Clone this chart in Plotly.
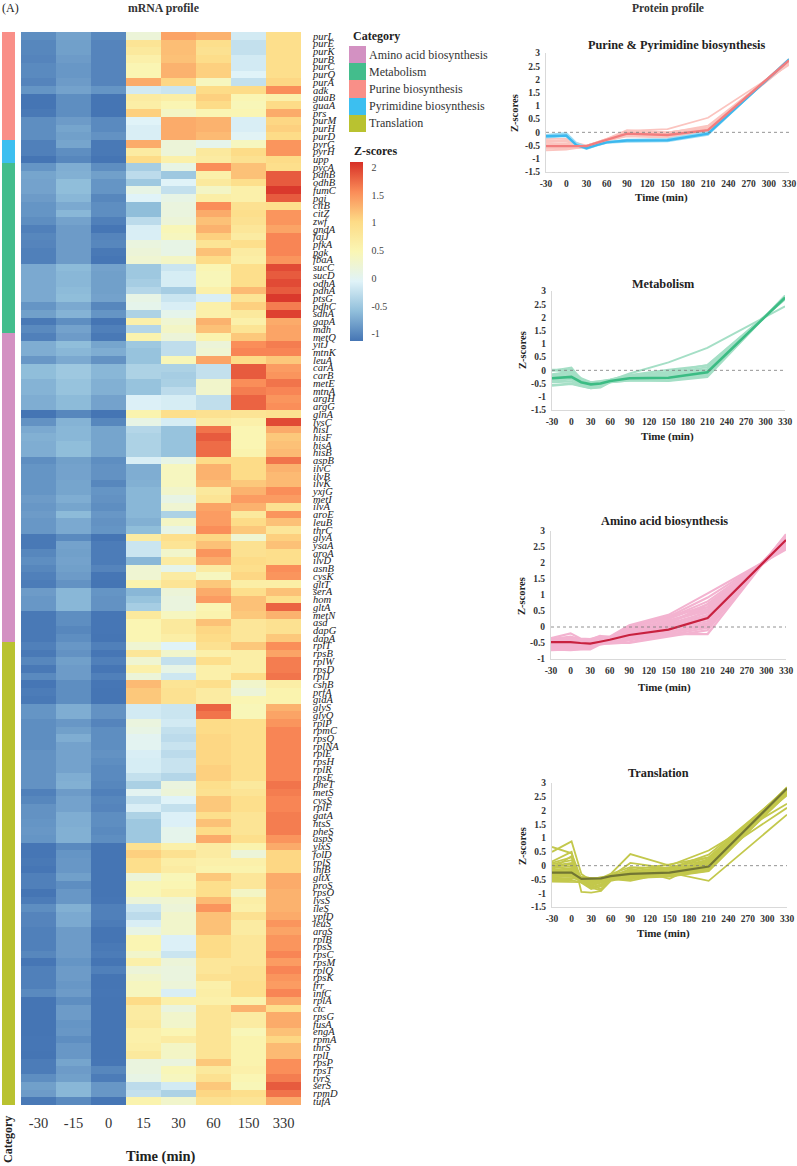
import plotly.graph_objects as go

W, H = 797, 1166
SERIF = "Liberation Serif"

time_cols = ["-30", "-15", "0", "15", "30", "60", "150", "330"]

genes_purine = ["purL","purE","purK","purB","purC","purQ","purA","adk","guaB","guaA","prs","purM","purH","purD"]
z_purine = [
[-0.95,-0.8,-0.98,0.2,1.4,1.3,-0.15,0.95],
[-1.0,-0.82,-1.02,0.85,1.22,0.95,-0.25,0.95],
[-1.0,-0.82,-1.02,0.75,1.22,0.9,-0.25,0.95],
[-1.02,-0.85,-1.02,0.6,1.2,0.98,-0.15,0.95],
[-0.98,-0.88,-1.02,0.5,1.3,1.1,-0.15,0.95],
[-0.98,-0.88,-1.02,0.5,1.3,1.1,-0.05,0.95],
[-1.02,-0.85,-1.02,1.35,1.05,0.4,-0.25,1.05],
[-0.9,-0.8,-0.9,-0.15,-0.2,1.0,1.0,1.55],
[-1.15,-0.95,-1.15,0.7,0.65,1.1,0.5,0.6],
[-1.15,-0.95,-1.15,0.65,0.5,1.0,0.45,1.0],
[-1.1,-0.95,-1.15,1.1,0.35,0.5,0.5,1.35],
[-0.95,-0.85,-0.98,-0.05,1.35,1.3,-0.1,1.05],
[-0.95,-0.78,-0.98,-0.1,1.35,1.3,-0.1,1.1],
[-0.95,-0.82,-0.92,-0.1,1.35,1.25,-0.03,1.0],
]
genes_pyrimidine = ["pyrG","pyrH","upp"]
z_pyrimidine = [
[-1.05,-0.78,-1.1,1.35,0.2,0.05,0.4,1.5],
[-1.05,-0.95,-1.1,0.7,0.2,0.75,1.0,1.5],
[-1.15,-1.0,-1.15,1.0,0.6,0.7,0.9,1.0],
]
genes_metabolism = ["pycA","pdhB","odhB","fumC","pgi","citB","citZ","zwf","gndA","faiJ","pfkA","pgk","fbaA","sucC","sucD","odhA","pdhA","ptsG","pdhC","sdhA","gapA","mdh"]
z_metabolism = [
[-0.9,-0.72,-0.95,-0.45,0.1,1.55,1.2,0.95],
[-0.78,-0.7,-0.82,-0.3,-0.5,0.6,1.2,1.85],
[-0.8,-0.6,-0.9,-0.5,-0.05,0.75,0.95,1.85],
[-0.8,-0.6,-0.9,0.1,-0.25,0.35,0.6,2.05],
[-0.85,-0.65,-1.0,-0.05,0.1,0.65,0.6,1.85],
[-0.9,-0.75,-0.95,-0.6,0.15,1.55,0.9,0.95],
[-0.9,-0.65,-0.95,-0.6,0.15,1.35,0.95,1.5],
[-0.95,-0.8,-1.05,-0.3,0.2,1.2,0.9,1.5],
[-1.05,-0.85,-1.12,-0.1,0.45,1.3,0.8,1.4],
[-1.0,-0.85,-1.02,-0.1,0.4,1.1,0.7,1.6],
[-1.02,-0.85,-1.0,0.15,0.1,0.85,0.95,1.6],
[-1.05,-0.85,-1.1,0.2,0.1,1.2,0.7,1.6],
[-1.05,-0.85,-1.12,0.25,0.35,1.0,0.65,1.5],
[-0.75,-0.62,-0.8,-0.5,-0.2,0.5,0.95,1.95],
[-0.75,-0.65,-0.82,-0.5,-0.12,0.45,0.95,1.85],
[-0.75,-0.65,-0.82,-0.45,-0.12,0.45,0.95,1.95],
[-0.75,-0.62,-0.82,-0.35,-0.45,0.6,1.25,1.85],
[-0.75,-0.6,-0.8,0.1,-0.2,-0.1,0.85,2.05],
[-0.9,-0.75,-1.0,0.05,-0.1,0.6,1.1,1.65],
[-0.82,-0.68,-0.9,-0.4,0.05,0.6,0.75,2.0],
[-1.1,-0.95,-1.15,0.6,0.25,1.3,0.6,1.35],
[-0.98,-0.8,-1.05,-0.35,0.35,1.2,0.85,1.4],
]
genes_amino = ["metQ","yitJ","mtnK","leuA","carA","carB","metE","mtnA","argH","argG","glnA","lysC","hisI","hisF","hisA","hisB","aspB","ilvC","ilvB","ilvK","yxjG","metI","ilvA","aroE","leuB","thrC","glyA","ysaA","aroA","ilvD","asnB","cysK","gltT","serA","hom","gltA","metN","asd","dapG","dapA"]
z_amino = [
[-1.05,-0.85,-1.1,0.55,0.2,0.55,1.15,1.4],
[-0.72,-0.6,-0.78,-0.5,-0.28,0.2,1.55,1.65],
[-0.72,-0.65,-0.72,-0.55,-0.28,0.25,1.6,1.6],
[-0.88,-0.75,-0.92,-0.55,0.45,1.4,1.0,1.15],
[-0.6,-0.5,-0.65,-0.4,-0.4,-0.25,1.85,1.45],
[-0.6,-0.5,-0.65,-0.4,-0.45,-0.25,1.85,1.5],
[-0.68,-0.55,-0.7,-0.55,-0.42,0.3,1.55,1.7],
[-0.68,-0.55,-0.7,-0.55,-0.3,0.3,1.65,1.6],
[-0.72,-0.62,-0.8,-0.08,-0.12,-0.27,1.8,1.5],
[-0.72,-0.62,-0.8,-0.08,-0.12,-0.27,1.8,1.55],
[-1.15,-1.0,-1.18,0.55,0.95,0.9,0.85,0.9],
[-0.92,-0.68,-1.0,0.1,-0.12,0.7,0.6,1.95],
[-0.75,-0.65,-0.78,-0.35,-0.55,1.7,0.5,1.35],
[-0.7,-0.65,-0.78,-0.4,-0.55,1.85,0.5,1.15],
[-0.72,-0.6,-0.78,-0.4,-0.55,1.75,0.5,1.2],
[-0.72,-0.6,-0.78,-0.4,-0.55,1.75,0.55,1.25],
[-0.95,-0.82,-0.95,-0.1,0.1,1.0,1.0,1.7],
[-0.9,-0.8,-0.92,-0.72,0.4,1.3,1.0,1.3],
[-0.9,-0.8,-0.92,-0.72,0.4,1.3,1.0,1.25],
[-0.9,-0.78,-1.0,-0.7,0.4,1.25,1.15,1.25],
[-0.9,-0.78,-0.9,-0.65,0.3,0.75,1.3,1.55],
[-0.85,-0.72,-0.92,-0.65,0.1,0.85,1.45,1.45],
[-0.88,-0.78,-0.95,-0.65,0.25,1.4,1.3,0.9],
[-0.85,-0.62,-0.88,-0.65,-0.4,1.45,0.75,1.5],
[-0.88,-0.75,-0.92,-0.7,0.35,1.45,1.0,1.2],
[-0.88,-0.75,-0.9,-0.6,0.1,1.55,1.15,0.8],
[-1.1,-0.98,-1.15,0.7,0.95,1.05,0.25,1.1],
[-1.1,-0.8,-1.08,-0.2,0.85,1.2,0.9,1.2],
[-1.0,-0.82,-1.08,-0.2,0.3,1.5,0.9,0.95],
[-0.95,-0.8,-1.08,-0.65,0.7,1.35,1.0,0.95],
[-1.0,-0.82,-1.02,0.25,0.05,0.7,0.95,1.55],
[-1.05,-0.85,-1.12,0.25,0.7,0.4,1.05,1.5],
[-1.08,-0.92,-1.15,0.55,0.85,1.15,0.65,0.65],
[-0.85,-0.65,-0.9,-0.65,0.2,1.35,0.95,1.2],
[-0.88,-0.65,-0.92,-0.55,0.15,1.45,1.2,0.95],
[-0.88,-0.65,-0.92,-0.45,0.15,0.5,1.2,1.8],
[-1.1,-0.95,-1.12,0.75,0.4,0.55,1.15,1.3],
[-1.1,-0.95,-1.12,0.5,0.75,1.2,0.8,0.9],
[-1.1,-1.0,-1.12,0.5,0.75,1.05,0.8,0.9],
[-1.1,-0.95,-1.15,0.5,0.65,1.0,0.8,1.15],
]
genes_translation = ["rplT","rpsB","rplW","rpsD","rplJ","cshB","prfA","gidA","glyS","glyQ","rplP","rpmC","rpsQ","rplNA","rplE","rpsH","rplR","rpsE","pheT","metS","cysS","rplF","gatA","htsS","pheS","aspS","ylxS","folD","rplS","infB","gltX","proS","rpsO","lysS","ileS","ypfD","leuS","argS","rplB","rpsS","rpsC","rpsM","rplQ","rpsK","frr","infC","rplA","ctc","rpsG","fusA","engA","rpmA","thrS","rplI","rpsP","rpsT","tyrS","serS","rpmD","tufA"]
z_translation = [
[-1.05,-0.88,-1.05,0.25,-0.05,0.9,1.15,1.55],
[-1.1,-0.92,-1.12,0.8,0.3,0.6,0.65,1.4],
[-1.0,-0.82,-1.05,0.25,-0.25,0.95,0.65,1.65],
[-1.1,-0.85,-1.12,0.6,0.1,0.6,0.65,1.65],
[-0.98,-0.85,-1.05,0.2,-0.18,0.6,1.0,1.7],
[-1.12,-0.95,-1.12,1.25,0.85,0.95,0.3,0.65],
[-1.08,-0.95,-1.15,1.15,0.9,0.7,0.2,0.55],
[-1.1,-0.95,-1.18,1.15,0.9,0.7,0.5,0.55],
[-0.9,-0.72,-0.92,-0.15,-0.2,1.8,0.45,1.3],
[-0.9,-0.72,-0.92,-0.15,-0.2,1.7,0.45,1.4],
[-0.95,-0.88,-1.02,0.15,-0.15,1.0,0.95,1.5],
[-0.95,-0.82,-0.95,0.1,-0.25,1.0,0.95,1.6],
[-0.95,-0.72,-0.95,0.0,-0.3,1.05,0.95,1.6],
[-0.95,-0.8,-0.95,0.0,-0.22,1.05,0.95,1.6],
[-0.92,-0.8,-0.92,-0.1,-0.3,1.05,0.95,1.6],
[-0.92,-0.8,-0.95,-0.12,-0.22,1.05,0.95,1.6],
[-0.92,-0.8,-0.98,-0.12,-0.22,1.1,0.95,1.6],
[-0.92,-0.72,-0.98,-0.25,-0.35,1.1,0.95,1.6],
[-0.92,-0.7,-1.0,-0.42,0.15,0.95,0.75,1.7],
[-1.05,-0.85,-1.05,0.0,0.2,0.9,0.85,1.65],
[-1.0,-0.8,-1.0,-0.25,-0.05,1.15,0.95,1.6],
[-0.92,-0.8,-1.02,-0.1,-0.25,1.15,0.95,1.6],
[-0.92,-0.72,-0.95,-0.4,-0.08,0.95,0.85,1.65],
[-0.9,-0.72,-0.95,-0.5,-0.08,1.2,0.85,1.65],
[-0.88,-0.7,-0.98,-0.5,0.05,1.0,0.85,1.65],
[-0.9,-0.7,-0.95,-0.5,0.05,1.35,0.95,1.5],
[-1.12,-0.98,-1.2,0.9,0.6,0.7,0.55,1.35],
[-1.12,-0.9,-1.2,1.1,0.9,0.7,0.2,1.05],
[-1.1,-0.88,-1.2,0.95,0.65,0.6,0.6,1.05],
[-1.12,-0.88,-1.2,0.95,0.7,0.55,0.55,1.05],
[-1.05,-0.82,-1.18,0.2,0.45,1.15,0.8,1.35],
[-1.05,-0.95,-1.18,0.45,0.5,0.95,0.8,1.35],
[-1.15,-0.88,-1.18,0.45,0.6,0.95,0.35,1.3],
[-1.08,-0.88,-1.12,0.2,0.25,1.25,0.65,1.3],
[-0.95,-0.7,-1.05,-0.2,0.2,1.5,0.6,1.3],
[-1.02,-0.75,-1.05,-0.3,0.3,1.2,0.9,1.35],
[-1.02,-0.75,-1.08,-0.1,0.3,1.2,0.7,1.5],
[-1.05,-0.85,-1.15,0.1,0.3,1.2,0.7,1.4],
[-1.05,-0.85,-1.15,0.5,-0.08,1.0,0.8,1.5],
[-1.05,-0.85,-1.1,0.5,-0.08,1.0,0.8,1.5],
[-1.0,-0.85,-1.08,0.3,-0.2,1.0,0.8,1.6],
[-1.12,-0.9,-1.15,0.6,0.2,0.8,0.8,1.45],
[-1.05,-0.85,-1.05,0.2,0.15,0.8,0.9,1.6],
[-1.05,-0.85,-1.15,0.3,0.15,0.9,0.9,1.5],
[-1.05,-0.88,-1.15,0.4,0.2,0.6,0.95,1.45],
[-0.98,-0.85,-1.12,0.4,-0.1,0.65,0.95,1.6],
[-1.15,-0.95,-1.18,1.0,0.6,0.6,0.55,1.35],
[-1.15,-0.85,-1.18,0.7,0.15,0.85,1.3,0.95],
[-1.15,-0.85,-1.18,0.7,0.3,0.85,0.7,1.35],
[-1.15,-0.9,-1.2,0.75,0.3,0.85,0.7,1.35],
[-1.15,-0.88,-1.2,0.6,0.5,0.85,0.45,1.2],
[-1.12,-0.95,-1.2,0.6,0.7,0.85,0.55,1.05],
[-1.12,-0.88,-1.2,0.65,0.35,0.85,0.55,1.25],
[-1.15,-0.88,-1.2,0.75,0.35,0.85,0.55,1.25],
[-1.08,-0.78,-1.12,0.15,0.15,1.15,0.55,1.55],
[-1.08,-0.85,-1.0,0.15,0.45,0.75,0.6,1.55],
[-0.95,-0.82,-1.08,0.1,0.4,0.9,0.5,1.65],
[-0.82,-0.65,-0.88,-0.3,-0.15,1.15,0.45,1.85],
[-0.85,-0.65,-0.88,-0.25,-0.4,1.05,0.95,1.7],
[-1.1,-0.98,-1.12,0.55,0.3,0.9,0.85,1.35],
]

legend_names = ["Amino acid biosynthesis", "Metabolism", "Purine biosynthesis", "Pyrimidine biosynthesis", "Translation"]
legend_colors = ["#d391c2", "#43bd8c", "#f98f88", "#3cbff0", "#b9c230"]
cbar_ticks = [-1, -0.5, 0, 0.5, 1, 1.5, 2]

# protein profile time points and per-protein z-scores
protein_times = [-30, 0, 15, 30, 45, 60, 90, 150, 210, 330]
axis_ticks = [-30, 0, 30, 60, 90, 120, 150, 180, 210, 240, 270, 300, 330]

purine_lines = [
[-0.25,-0.25,-0.4,-0.5,-0.38,-0.25,0.08,0.0,0.2,2.6],
[-0.35,-0.3,-0.45,-0.55,-0.4,-0.3,0.05,0.12,0.55,2.55],
[-0.45,-0.45,-0.5,-0.5,-0.4,-0.28,0.0,-0.02,0.25,2.65],
[-0.55,-0.55,-0.55,-0.55,-0.42,-0.3,-0.05,-0.05,0.15,2.7],
[-0.62,-0.6,-0.55,-0.5,-0.38,-0.25,-0.1,-0.12,0.05,2.75],
[-0.68,-0.65,-0.6,-0.58,-0.45,-0.32,-0.12,-0.15,-0.02,2.78],
[-0.6,-0.6,-0.58,-0.55,-0.42,-0.3,-0.15,-0.2,0.0,2.72],
[-0.5,-0.48,-0.5,-0.5,-0.4,-0.32,-0.02,-0.08,0.12,2.68],
[-0.4,-0.42,-0.48,-0.55,-0.43,-0.3,-0.08,-0.1,0.1,2.62],
[-0.3,-0.35,-0.45,-0.52,-0.4,-0.27,0.02,0.0,0.18,2.7],
]
purine_mean = [-0.52,-0.52,-0.52,-0.52,-0.4,-0.28,-0.05,-0.1,0.08,2.72]
pyrimidine_lines = [
[-0.1,-0.02,-0.4,-0.55,-0.45,-0.36,-0.28,-0.25,0.02,2.72],
[-0.2,-0.15,-0.5,-0.63,-0.5,-0.4,-0.36,-0.34,-0.1,2.78],
[-0.15,-0.1,-0.45,-0.6,-0.48,-0.38,-0.3,-0.3,-0.06,2.75],
]
pyrimidine_mean = [-0.15,-0.12,-0.48,-0.6,-0.48,-0.38,-0.31,-0.3,-0.05,2.75]

metabolism_lines = [
[0.02,0.02,-0.3,-0.45,-0.42,-0.35,-0.18,0.02,0.18,2.68],
[-0.02,0.1,-0.35,-0.45,-0.4,-0.36,-0.2,-0.05,0.2,2.7],
[0.0,-0.05,-0.35,-0.48,-0.45,-0.38,-0.12,0.3,0.85,2.42],
[-0.15,-0.05,-0.38,-0.5,-0.45,-0.38,-0.22,-0.1,0.12,2.72],
[-0.2,-0.1,-0.4,-0.5,-0.48,-0.38,-0.25,-0.15,0.05,2.74],
[-0.25,-0.15,-0.42,-0.55,-0.5,-0.4,-0.28,-0.2,0.0,2.75],
[-0.3,-0.2,-0.45,-0.58,-0.55,-0.42,-0.3,-0.25,-0.05,2.78],
[-0.35,-0.3,-0.5,-0.6,-0.55,-0.42,-0.32,-0.3,-0.1,2.78],
[-0.4,-0.35,-0.52,-0.62,-0.58,-0.44,-0.34,-0.33,-0.15,2.8],
[-0.45,-0.42,-0.55,-0.65,-0.6,-0.44,-0.36,-0.35,-0.18,2.8],
[-0.55,-0.5,-0.58,-0.68,-0.62,-0.45,-0.38,-0.38,-0.22,2.82],
[-0.58,-0.52,-0.6,-0.68,-0.65,-0.45,-0.38,-0.4,-0.25,2.82],
]
metabolism_mean = [-0.3,-0.25,-0.45,-0.53,-0.5,-0.4,-0.3,-0.28,-0.07,2.75]

amino_lines = [
[-0.35,-0.2,-0.36,-0.38,-0.3,-0.3,0.05,0.38,1.05,2.42],
[-0.38,-0.3,-0.38,-0.4,-0.28,-0.32,0.02,0.32,0.92,2.48],
[-0.42,-0.35,-0.4,-0.42,-0.35,-0.35,0.0,0.28,0.8,2.52],
[-0.45,-0.4,-0.42,-0.45,-0.38,-0.35,-0.05,0.35,0.62,2.55],
[-0.48,-0.42,-0.45,-0.5,-0.4,-0.38,-0.08,0.2,0.55,2.6],
[-0.5,-0.45,-0.48,-0.48,-0.42,-0.4,-0.1,0.15,0.62,2.62],
[-0.52,-0.5,-0.5,-0.55,-0.45,-0.42,-0.15,0.1,0.45,2.65],
[-0.55,-0.52,-0.52,-0.55,-0.45,-0.42,-0.2,0.05,0.38,2.7],
[-0.58,-0.55,-0.55,-0.58,-0.48,-0.45,-0.25,0.0,0.3,2.72],
[-0.6,-0.58,-0.58,-0.6,-0.5,-0.45,-0.3,-0.05,0.25,2.75],
[-0.62,-0.6,-0.6,-0.62,-0.5,-0.48,-0.35,-0.1,0.18,2.78],
[-0.65,-0.62,-0.62,-0.65,-0.52,-0.48,-0.38,-0.15,0.12,2.8],
[-0.68,-0.68,-0.65,-0.62,-0.5,-0.5,-0.42,-0.2,0.05,2.82],
[-0.72,-0.7,-0.68,-0.68,-0.52,-0.52,-0.48,-0.25,-0.02,2.85],
[-0.7,-0.72,-0.7,-0.7,-0.55,-0.5,-0.5,-0.3,-0.1,2.88],
[-0.45,-0.38,-0.4,-0.45,-0.38,-0.4,-0.28,-0.22,-0.22,2.9],
[-0.4,-0.42,-0.45,-0.5,-0.35,-0.38,-0.2,0.1,0.72,2.5],
[-0.55,-0.48,-0.55,-0.58,-0.42,-0.42,-0.12,-0.02,0.5,2.58],
[-0.46,-0.44,-0.46,-0.52,-0.42,-0.4,-0.02,0.25,0.7,2.56],
[-0.6,-0.55,-0.57,-0.6,-0.47,-0.44,-0.18,0.18,0.52,2.66],
[-0.66,-0.63,-0.64,-0.64,-0.5,-0.47,-0.28,-0.03,0.34,2.76],
[-0.5,-0.47,-0.5,-0.56,-0.43,-0.43,-0.33,-0.18,0.08,2.84],
]
amino_mean = [-0.47,-0.47,-0.5,-0.52,-0.46,-0.4,-0.25,-0.08,0.28,2.72]

translation_lines = [
[0.68,0.45,-0.5,-0.7,-0.85,-0.45,-0.2,-0.15,0.1,2.6],
[0.5,0.88,-0.3,-0.55,-0.6,-0.3,-0.05,-0.1,0.3,2.7],
[0.15,0.5,-0.95,-0.98,-0.92,-0.55,-0.4,-0.3,0.25,2.55],
[-0.12,0.35,-0.55,-0.8,-0.9,-0.45,-0.28,-0.2,0.15,2.65],
[-0.2,-0.2,-0.4,-0.45,-0.45,-0.3,0.42,0.0,0.55,2.25],
[-0.58,-0.58,-0.6,-0.8,-0.7,-0.48,-0.55,-0.25,-0.55,1.85],
[-0.35,-0.3,-0.5,-0.6,-0.55,-0.45,-0.1,-0.48,0.2,2.1],
[0.1,0.3,-0.6,-0.7,-0.6,-0.4,0.1,-0.1,0.4,2.75],
[0.05,0.2,-0.5,-0.55,-0.55,-0.35,-0.15,0.05,0.3,2.8],
[0.0,0.1,-0.45,-0.5,-0.5,-0.4,-0.2,-0.05,0.2,2.82],
[-0.05,0.05,-0.45,-0.48,-0.45,-0.38,-0.22,-0.12,0.15,2.78],
[-0.1,-0.02,-0.42,-0.45,-0.48,-0.36,-0.25,-0.15,0.08,2.75],
[-0.15,-0.08,-0.48,-0.5,-0.42,-0.4,-0.28,-0.2,0.05,2.85],
[-0.2,-0.12,-0.5,-0.52,-0.48,-0.42,-0.3,-0.22,0.0,2.8],
[-0.25,-0.18,-0.46,-0.55,-0.5,-0.38,-0.32,-0.25,-0.03,2.72],
[-0.28,-0.25,-0.52,-0.6,-0.52,-0.42,-0.35,-0.3,-0.06,2.68],
[-0.32,-0.3,-0.48,-0.62,-0.55,-0.44,-0.36,-0.32,-0.1,2.82],
[-0.38,-0.35,-0.55,-0.72,-0.62,-0.46,-0.38,-0.35,-0.14,2.78],
[-0.42,-0.4,-0.58,-0.78,-0.68,-0.42,-0.42,-0.38,-0.18,2.75],
[-0.48,-0.45,-0.5,-0.65,-0.58,-0.48,-0.45,-0.4,-0.2,2.62],
[-0.52,-0.52,-0.62,-0.85,-0.75,-0.5,-0.5,-0.28,-0.12,2.58],
]
translation_mean = [-0.25,-0.25,-0.48,-0.46,-0.46,-0.38,-0.3,-0.25,-0.03,2.8]

panel_titles = ["Purine & Pyrimidine biosynthesis", "Metabolism", "Amino acid biosynthesis", "Translation"]

# ---------- layout helpers (pixel boxes) ----------
def dom_x(a, b): return [a / W, b / W]
def dom_y(top, bottom): return [1 - bottom / H, 1 - top / H]

colorscale = [[0, "#4575b4"], [1/6, "#91bfdb"], [2/6, "#e0f3f8"], [3/6, "#faf6b4"],
              [4/6, "#fddb86"], [5/6, "#fa8c58"], [1, "#d73027"]]

genes = genes_purine + genes_pyrimidine + genes_metabolism + genes_amino + genes_translation
z_all = z_purine + z_pyrimidine + z_metabolism + z_amino + z_translation
cat_codes = ([2] * len(genes_purine) + [3] * len(genes_pyrimidine) + [1] * len(genes_metabolism)
             + [0] * len(genes_amino) + [4] * len(genes_translation))
n = len(genes)

cat_scale = []
for i, c in enumerate(legend_colors):
    cat_scale += [[i / 5, c], [(i + 1) / 5, c]]

fig = go.Figure()
fig.add_trace(go.Heatmap(z=z_all, x=list(range(8)), y=list(range(n)), coloraxis="coloraxis",
                         xaxis="x", yaxis="y", hoverinfo="skip"))
fig.add_trace(go.Heatmap(z=[[c] for c in cat_codes], y=list(range(n)), colorscale=cat_scale,
                         zmin=-0.5, zmax=4.5, showscale=False, xaxis="x2", yaxis="y2", hoverinfo="skip"))
fig.add_trace(go.Heatmap(z=[[i] for i in range(5)], colorscale=cat_scale, zmin=-0.5, zmax=4.5,
                         showscale=False, xaxis="x3", yaxis="y3", hoverinfo="skip"))

layout = dict(
    width=W, height=H, margin=dict(l=0, r=0, t=0, b=0, autoexpand=False), autosize=False,
    paper_bgcolor="white", plot_bgcolor="white", showlegend=False,
    font=dict(family=SERIF, color="#222222"),
    coloraxis=dict(colorscale=colorscale, cmin=-1.13, cmax=2.1,
                   colorbar=dict(x=350/W, xanchor="left", y=1-162/H, yanchor="top",
                                 lenmode="pixels", len=179, thicknessmode="pixels", thickness=13,
                                 tickvals=cbar_ticks, ticktext=[str(t) for t in cbar_ticks],
                                 ticks="outside", ticklen=7, tickcolor="white", outlinewidth=0,
                                 xpad=0, ypad=0, tickfont=dict(size=10, family=SERIF, color="#444444"))),
    xaxis=dict(domain=dom_x(21, 301), anchor="y", tickmode="array", tickvals=list(range(8)), ticktext=time_cols,
               ticks="", showgrid=False, zeroline=False, tickfont=dict(size=14.5, family=SERIF, color="#333333"),
               ticklabelstandoff=7, range=[-0.5, 7.5]),
    yaxis=dict(domain=dom_y(32, 1105), anchor="x", side="right", autorange=False, range=[n - 0.5, -0.5],
               tickmode="array", tickvals=list(range(n)), ticktext=[f"<i>{g}</i>" for g in genes],
               ticks="", showgrid=False, zeroline=False, tickfont=dict(size=10.5, family=SERIF, color="#222222"),
               ticklabelstandoff=11),
    xaxis2=dict(domain=dom_x(2, 15), anchor="y2", visible=False),
    yaxis2=dict(domain=dom_y(32, 1105), anchor="x2", visible=False, range=[n - 0.5, -0.5]),
    xaxis3=dict(domain=dom_x(349, 366), anchor="y3", visible=False),
    yaxis3=dict(domain=dom_y(46, 132), anchor="x3", visible=False, range=[4.5, -0.5]),
)

annotations = []
def txt(x, y, s, size, bold=False, anchor="center", angle=0, color="#222222"):
    annotations.append(dict(x=x / W, y=1 - y / H, xref="paper", yref="paper", showarrow=False,
                            text=f"<b>{s}</b>" if bold else s, xanchor=anchor, yanchor="middle",
                            textangle=angle, font=dict(size=size, family=SERIF, color=color)))

txt(0, 8, "(A)", 12, anchor="left")
txt(163, 8, "mRNA profile", 11.8, bold=True, color="#333333")
txt(668, 8, "Protein profile", 11.6, bold=True, color="#333333")
txt(161, 1156, "Time (min)", 14.5, bold=True)
txt(8, 1140, "Category", 12, bold=True, angle=-90)
txt(351, 36, "Category", 12, bold=True, anchor="left")
txt(352, 151, "Z-scores", 12, bold=True, anchor="left")
for i, name in enumerate(legend_names):
    txt(367, 55 + i * 17.1, name, 12, anchor="left", color="#333333")

panels = [
    dict(box=(546, 789, 53, 172), yr=(-1.5, 3), title=(677, 45), tx=(661, 197), zx=(515, 113),
         groups=[(purine_lines, "#fbc4bf", 1.8), (pyrimidine_lines, "#9bdcf5", 1.8),
                 ([pyrimidine_mean], "#3cb8ee", 2.4), ([purine_mean], "#f27d7e", 2.4)]),
    dict(box=(552, 785, 291, 410), yr=(-1.5, 3), title=(663, 284), tx=(667, 436), zx=(522, 350),
         groups=[(metabolism_lines, "#a5dfc6", 2.0), ([metabolism_mean], "#3cbc84", 2.6)]),
    dict(box=(551, 786, 531, 659), yr=(-1, 3), title=(664, 521), tx=(664, 687), zx=(521, 596),
         groups=[(amino_lines, "#f3b3d0", 2.2), ([amino_mean], "#c8213f", 2.2)]),
    dict(box=(552, 787, 783, 907), yr=(-1.5, 3), title=(658, 773), tx=(663, 933), zx=(522, 846),
         groups=[(translation_lines, "#c3c84c", 1.8), ([translation_mean], "#727633", 2.2)]),
]

for k, p in enumerate(panels):
    idx = k + 4
    xn, yn = f"x{idx}", f"y{idx}"
    l, r, t, b = p["box"]
    layout[f"xaxis{idx}"] = dict(domain=dom_x(l, r), anchor=yn, range=[-30, 330], tickmode="array",
                                 tickvals=axis_ticks, ticktext=[f"<b>{v}</b>" for v in axis_ticks],
                                 ticks="", showline=True, linecolor="#d9d9d9", linewidth=1, showgrid=False,
                                 zeroline=False, tickfont=dict(size=9.5, family=SERIF, color="#333333"),
                                 ticklabelstandoff=3)
    lo, hi = p["yr"]
    vals = []
    v = lo
    while v <= hi:
        vals.append(v)
        v += 0.5
    layout[f"yaxis{idx}"] = dict(domain=dom_y(t, b), anchor=xn, range=[lo, hi], tickmode="array",
                                 tickvals=vals, ticktext=[f"<b>{v:g}</b>" for v in vals],
                                 ticks="", showline=True, linecolor="#d9d9d9", linewidth=1, showgrid=False,
                                 zeroline=False, tickfont=dict(size=9.5, family=SERIF, color="#333333"),
                                 ticklabelstandoff=3)
    for lines, color, width in p["groups"]:
        for ys in lines:
            fig.add_trace(go.Scatter(x=protein_times, y=ys, mode="lines", xaxis=xn, yaxis=yn,
                                     line=dict(color=color, width=width), hoverinfo="skip", cliponaxis=False))
    fig.add_trace(go.Scatter(x=[-30, 330], y=[0, 0], mode="lines", xaxis=xn, yaxis=yn,
                             line=dict(color="#777777", width=0.8, dash="dot"), hoverinfo="skip"))
    txt(p["title"][0], p["title"][1], panel_titles[k], 12.3, bold=True)
    txt(p["tx"][0], p["tx"][1], "Time (min)", 11, bold=True)
    txt(p["zx"][0], p["zx"][1], "Z-scores", 10.5, bold=True, angle=-90)

layout["annotations"] = annotations
fig.update_layout(**layout)
fig.write_html("out.html", config={"displayModeBar": False},
               post_script="document.body.style.margin='0';document.body.style.overflow='hidden';")
